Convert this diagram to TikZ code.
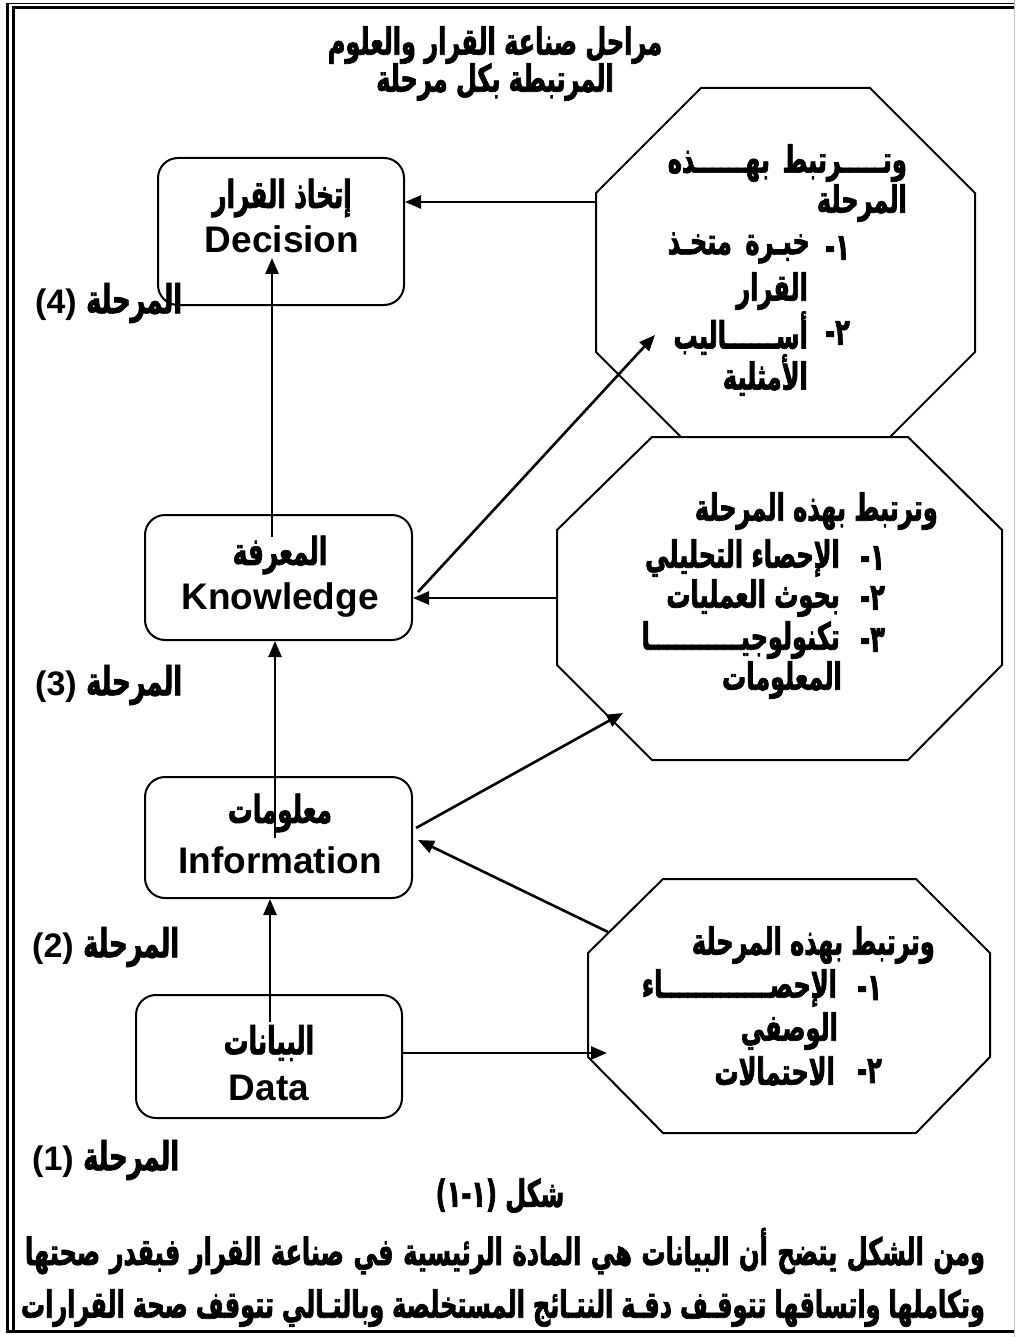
\documentclass[tikz,border=0pt]{standalone}
\usepackage{fontspec}
\setmainfont{Liberation Sans}
\newfontfamily\arabicfont[Script=Arabic,FakeStretch=0.64,BoldFeatures={FakeBold=1.8}]{DejaVu Sans}
\TeXXeTstate=1
\usetikzlibrary{arrows.meta}
\newcommand{\AR}[1]{\beginR #1\endR}
\newcommand{\ARJ}[2]{\hbox to #1{\beginR #2\endR}}
\begin{document}
\begin{tikzpicture}[x=1pt,y=-1pt,
  box/.style={draw,line width=2pt,rounded corners=20pt,inner sep=0},
  octo/.style={draw,line width=2pt,fill=white,line join=miter},
  arr/.style={line width=2.6pt,-{Triangle[length=16pt,width=13pt]}},
  ar/.style={inner sep=0,font=\arabicfont\bfseries\fontsize{37.5}{40}\selectfont},
  arbox/.style={inner sep=0,font=\arabicfont\bfseries\fontsize{38.5}{40}\selectfont},
  artitle/.style={inner sep=0,font=\arabicfont\bfseries\fontsize{37.5}{40}\selectfont},
  arpar/.style={inner sep=0,font=\arabicfont\bfseries\fontsize{37.5}{40}\selectfont},
  en/.style={inner sep=0,font=\bfseries\fontsize{37}{40}\selectfont},
  lbl/.style={inner sep=0,font=\bfseries\fontsize{34}{36}\selectfont},
  frame/.style={line cap=butt}]
\useasboundingbox (0,0) rectangle (1015,1337);
% page frame
\draw[frame,line width=3pt] (7.5,1333) -- (7.5,3);
\draw[frame,line width=3pt] (13.5,1330) -- (13.5,6);
\draw[frame,line width=1pt] (6,3.5) -- (1015,3.5);
\draw[frame,line width=2.5pt] (12,7.5) -- (1015,7.5);
\draw[frame,line width=3pt] (6,1331.5) -- (1015,1331.5);
\draw[frame,line width=1pt,black!25] (1014,0) -- (1014,1337);
% title
\node[artitle] (t1) at (495,45) {\AR{مراحل صناعة القرار والعلوم}};
\node[artitle] (t2) at (495,82) {\AR{المرتبطة بكل مرحلة}};
% stage boxes
\node[box,minimum width=246pt,minimum height=147pt] (dec) at (281,231.5) {};
\node[box,minimum width=267pt,minimum height=125pt] (know) at (278.5,577.5) {};
\node[box,minimum width=267pt,minimum height=121pt] (info) at (278.5,837.5) {};
\node[box,minimum width=266pt,minimum height=123pt] (data) at (269,1056.5) {};
\node[arbox] (dec1) at (282,198) {\AR{إتخاذ القرار}};
\node[en] (dec2) at (282,239) {Decision};
\node[arbox] (know1) at (280,555) {\AR{المعرفة}};
\node[en] (know2) at (280,600) {Knowledge};
\node[arbox] (info1) at (280,813) {\AR{معلومات}};
\node[en] (info2) at (280,860) {Information};
\node[arbox] (data1) at (269,1043) {\AR{البيانات}};
\node[en] (data2) at (269,1088) {Data};
% stage labels
\node[lbl,anchor=west] (s4) at (35,303) {(4) {\arabicfont\fontsize{40}{44}\selectfont\AR{المرحلة}}};
\node[lbl,anchor=west] (s3) at (35,685) {(3) {\arabicfont\fontsize{40}{44}\selectfont\AR{المرحلة}}};
\node[lbl,anchor=west] (s2) at (32,947) {(2) {\arabicfont\fontsize{40}{44}\selectfont\AR{المرحلة}}};
\node[lbl,anchor=west] (s1) at (32,1160) {(1) {\arabicfont\fontsize{40}{44}\selectfont\AR{المرحلة}}};
% octagons
\draw[octo] (596,193) -- (701,88) -- (870,88) -- (975,193) -- (975,352) -- (880,447) -- (691,447) -- (596,352) -- cycle;
\draw[octo] (557,530) -- (652,437) -- (908,437) -- (1002,530) -- (1002,665) -- (908,760) -- (652,760) -- (557,665) -- cycle;
\draw[octo] (588,953) -- (663,879) -- (916,879) -- (990,953) -- (990,1057) -- (916,1133) -- (663,1133) -- (588,1057) -- cycle;
% octagon 1 text
\node[ar,anchor=east] (a1) at (907,163) {\ARJ{239pt}{وتـــــرتبط\hfill بهــــــذه}};
\node[ar,anchor=east] (a2) at (907,203) {\AR{المرحلة}};
\node[ar,anchor=east] (a3) at (850,248) {\AR{١-}};
\node[ar,anchor=east] (a4) at (810,248) {\ARJ{142pt}{خبـرة\hfill متخـذ}};
\node[ar,anchor=east] (a5) at (808,291) {\AR{القرار}};
\node[ar,anchor=east] (a6) at (850,333) {\AR{٢-}};
\node[ar,anchor=east] (a7) at (808,333) {\AR{أســــــاليب}};
\node[ar,anchor=east] (a8) at (808,375) {\AR{الأمثلية}};
% octagon 2 text
\node[ar,anchor=east] (b1) at (938,511) {\AR{وترتبط بهذه المرحلة}};
\node[ar,anchor=east] (b2) at (885,558) {\AR{١-}};
\node[ar,anchor=east] (b3) at (840,558) {\AR{الإحصاء التحليلي}};
\node[ar,anchor=east] (b4) at (885,598) {\AR{٢-}};
\node[ar,anchor=east] (b5) at (840,598) {\AR{بحوث العمليات}};
\node[ar,anchor=east] (b6) at (885,640) {\AR{٣-}};
\node[ar,anchor=east] (b7) at (840,640) {\AR{تكنولوجيـــــــــــا}};
\node[ar,anchor=east] (b8) at (842,680) {\AR{المعلومات}};
% octagon 3 text
\node[ar,anchor=east] (c1) at (935,945) {\AR{وترتبط بهذه المرحلة}};
\node[ar,anchor=east] (c2) at (882,988) {\AR{١-}};
\node[ar,anchor=east] (c3) at (837,988) {\AR{الإحصـــــــــــــاء}};
\node[ar,anchor=east] (c4) at (838,1031) {\AR{الوصفي}};
\node[ar,anchor=east] (c5) at (882,1071) {\AR{٢-}};
\node[ar,anchor=east] (c6) at (835,1071) {\AR{الاحتمالات}};
% caption and paragraph
\node[ar] (cap) at (500,1196) {{\arabicfont (١-١)} \AR{شكل}};
\node[arpar] (p1) at (505,1251) {\hbox to 960pt{\beginR ومن الشكل يتضح أن البيانات هي المادة الرئيسية في صناعة القرار فبقدر صحتها\endR}};
\node[arpar] (p2) at (503,1308) {\hbox to 964pt{\beginR وتكاملها واتساقها تتوقـف دقـة النتـائج المستخلصة وبالتـالي تتوقف صحة القرارات\endR}};
% connector end points
\coordinate (o1w) at (596,202);
\coordinate (k1) at (272,537);
\coordinate (d1) at (272,258);
\coordinate (i1) at (275,838);
\coordinate (da1) at (270,1022);
\coordinate (kout) at (418,592);
\coordinate (o1in) at (655,335);
\coordinate (o2w) at (557,598);
\coordinate (iout) at (416,828);
\coordinate (o2in) at (623,713);
\coordinate (o3d) at (608,932);
\coordinate (iin) at (418,840);
\coordinate (o3in) at (607,1053);
% connectors
\draw[arr] (o1w) -- (o1w -| dec.east);
\draw[arr] (k1) -- (d1);
\draw[arr] (i1) -- (i1 |- know.south);
\draw[arr] (da1) -- (da1 |- info.south);
\draw[arr] (kout) -- (o1in);
\draw[arr] (o2w) -- (o2w -| know.east);
\draw[arr] (iout) -- (o2in);
\draw[arr] (o3d) -- (iin);
\draw[arr] (data.east |- o3in) -- (o3in);
\end{tikzpicture}
\end{document}
